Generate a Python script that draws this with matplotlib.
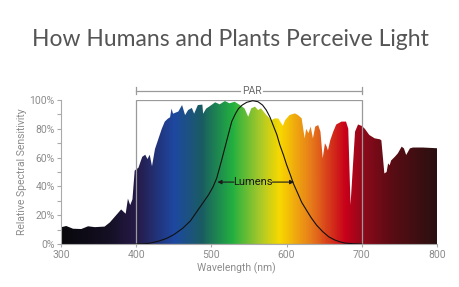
import numpy as np
import matplotlib
matplotlib.use('Agg')
import matplotlib.pyplot as plt
from matplotlib.colors import LinearSegmentedColormap
from matplotlib.patches import Polygon, Rectangle

# spectrum (nm, % relative sensitivity)
spec_nm = [300, 307, 316, 327, 336, 345, 358, 365, 380, 384, 386, 389, 392, 395, 398,
           403, 408, 412, 415, 418, 421, 425, 434, 438, 442, 445, 447, 449, 456, 461,
           465, 469, 474, 477, 482, 488, 489, 493, 500, 505, 511, 518, 524, 531, 538,
           544, 549, 553, 558, 562, 566, 573, 580, 584, 589, 593, 595, 598, 604, 611,
           615, 620, 624, 626, 629, 632, 635, 638, 642, 645, 648, 651, 653, 655, 658,
           662, 666, 673, 679, 682, 685, 691, 695, 700, 704, 710, 717, 724, 726, 730,
           733, 735, 737, 739, 744, 748, 753, 756, 759, 764, 768, 781, 800]
spec_val = [11.6, 12.5, 10.6, 10.4, 12.3, 11.7, 12.1, 15, 24, 22, 21, 31.5, 27, 31, 51,
            53, 60.5, 62, 59, 62, 54, 66, 80, 85, 87, 88, 94, 90.5, 92, 96.5,
            89.5, 93, 94.5, 90.5, 96.5, 96.8, 90.5, 94, 96.5, 98.4, 97, 99.3, 97.7, 98.8, 96.5,
            94.2, 88.4, 94.2, 95.4, 93, 94.2, 89.6, 86, 87.2, 87.2, 83.8, 82, 86, 89.6, 90.7,
            89.6, 87.3, 73.4, 80, 77, 81.5, 73.4, 81.5, 82.6, 78, 59.5, 70, 68, 65, 72,
            78, 83, 85, 85, 80, 27, 78, 83, 82, 80, 75.7, 73.4, 72.7, 72, 49,
            50, 56, 54.6, 58, 60.6, 63, 67.6, 66.4, 61.8, 66.4, 67, 67, 66.5]

# lumens (eye sensitivity) curve
lum_nm = [400, 412, 420, 430, 440, 450, 462, 472, 480, 488, 496, 502, 507, 513, 520,
          527, 532, 536, 541, 547, 555, 562, 568, 573, 578, 582, 587, 591, 596, 600,
          605, 609, 615, 620, 627, 633, 640, 648, 656, 664, 671, 677, 688, 700]
lum_val = [0, 0.2, 0.8, 2, 3.8, 6.5, 11, 16, 22, 28, 34, 39.5, 45.6, 57, 71,
           85, 90.5, 94, 96.5, 98.4, 99.5, 98.8, 96.5, 93, 88, 82.6, 76, 68.8, 61.5, 55,
           48, 42, 35, 29, 23, 18, 13, 8.6, 5, 2.8, 1.5, 0.7, 0.2, 0]

x_ticks = [300, 400, 500, 600, 700, 800]
y_ticks = [0, 20, 40, 60, 80, 100]
y_labels = ['0%', '20%', '40%', '60%', '80%', '100%']

# colour of the light along the wavelength axis
stop_nm = [300, 360, 400, 450, 487, 528, 564, 591, 631, 679, 706, 741, 800]
stop_col = ['#08080c', '#140f22', '#261a48', '#1e48a2', '#1a5c62', '#22b040', '#a6c82a',
            '#f8d800', '#e8801a', '#c8001a', '#880a1a', '#5a0c14', '#2a1010']

grey = '#8c8c8c'
plt.rcParams['font.family'] = ['Roboto', 'DejaVu Sans']

fig = plt.figure(figsize=(4.6, 2.87), dpi=100)
ax = fig.add_axes([61/460, 43/287, 376/460, 144/287])

pos = [(n - 300) / 500 for n in stop_nm]
cmap = LinearSegmentedColormap.from_list('spec', list(zip(pos, stop_col)))
grad = np.linspace(0, 1, 500).reshape(1, -1)
im = ax.imshow(grad, extent=[300, 800, 0, 100], aspect='auto', cmap=cmap,
               origin='lower', zorder=1)
verts = [(300, 0)] + list(zip(spec_nm, spec_val)) + [(800, 0)]
poly = Polygon(verts, closed=True, facecolor='none', edgecolor='none')
ax.add_patch(poly)
im.set_clip_path(poly)

# PAR box
ax.add_patch(Rectangle((400, 0), 300, 100, fill=False, edgecolor='#9a9a9a',
                       lw=0.9, zorder=3))

ax.plot(lum_nm, lum_val, color='#111111', lw=0.8, zorder=4)

ax.text(555, 43, 'Lumens', ha='center', va='center', fontsize=8,
        color='#1a1a1a', zorder=5)
ax.annotate('', xy=(508, 43), xytext=(530, 43),
            arrowprops=dict(arrowstyle='-|>', color='#1a1a1a', lw=0.8,
                            mutation_scale=6, shrinkA=0, shrinkB=0), zorder=5)
ax.annotate('', xy=(610, 43), xytext=(581, 43),
            arrowprops=dict(arrowstyle='-|>', color='#1a1a1a', lw=0.8,
                            mutation_scale=6, shrinkA=0, shrinkB=0), zorder=5)

# PAR bracket above the box
br = 106.5
ax.plot([400, 538], [br, br], color='#9a9a9a', lw=0.9, clip_on=False)
ax.plot([569, 700], [br, br], color='#9a9a9a', lw=0.9, clip_on=False)
ax.plot([400, 400], [104, 109], color='#9a9a9a', lw=0.9, clip_on=False)
ax.plot([700, 700], [104, 109], color='#9a9a9a', lw=0.9, clip_on=False)
ax.text(553.5, br, 'PAR', ha='center', va='center', fontsize=7.5, color='#6a6a6a')

ax.set_xlim(300, 800)
ax.set_ylim(0, 100)
ax.set_xticks(x_ticks)
ax.set_yticks(y_ticks)
ax.set_yticklabels(y_labels)
ax.set_yticks(range(0, 101, 10), minor=True)
ax.tick_params(axis='both', colors='#aaaaaa', labelcolor=grey, labelsize=7.5,
               length=3, width=0.8, pad=1.5)
ax.tick_params(axis='y', which='minor', colors='#aaaaaa', length=3, width=0.8)
ax.tick_params(axis='x', length=2, pad=2)
for s in ['top', 'right']:
    ax.spines[s].set_visible(False)
for s in ['left', 'bottom']:
    ax.spines[s].set_color('#aaaaaa')
    ax.spines[s].set_linewidth(0.8)

ax.set_xlabel('Wavelength (nm)', fontsize=7.5, color=grey)
ax.xaxis.set_label_coords((236 - 61) / 376, -0.13)
ax.set_ylabel('Relative Spectral Sensitivity', fontsize=7.5, color=grey, labelpad=2)

fig.text(0.5, 1 - 40/287, 'How Humans and Plants Perceive Light', ha='center',
         va='center', fontsize=16.5, color='#555555', family=['Lato', 'DejaVu Sans'])

fig.savefig('out.png', dpi=100)
